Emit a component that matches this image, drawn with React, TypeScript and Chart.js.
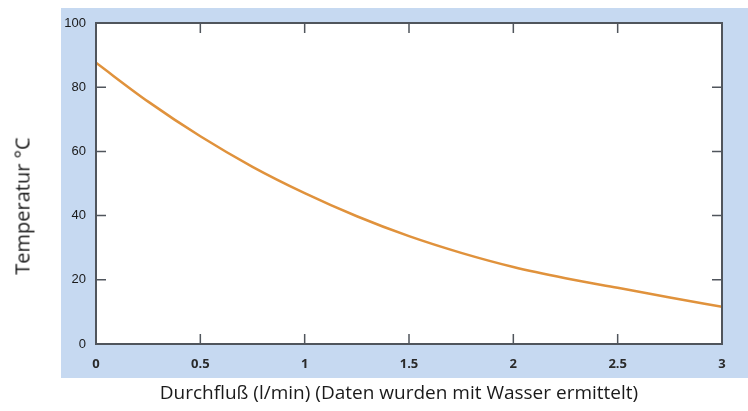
import { useEffect, useRef } from "react";
import { Chart, registerables } from "chart.js";

Chart.register(...registerables);

const flowValues = [0, 0.25, 0.5, 0.75, 1, 1.25, 1.5, 1.75, 2, 2.25, 2.5, 2.75, 3];
const temperatureValues = [87.6, 75.5, 64.7, 55.2, 47.0, 39.8, 33.6, 28.4, 24.0, 20.5, 17.5, 14.5, 11.6];
const xTickValues = [0, 0.5, 1, 1.5, 2, 2.5, 3];
const yTickValues = [0, 20, 40, 60, 80, 100];
const xTitle = "Durchfluß (l/min) (Daten wurden mit Wasser ermittelt)";
const yTitle = "Temperatur °C";

const frameColor = "#50555c";
const tickLen = 10;

const framePlugin = {
  id: "frameTicks",
  beforeDraw(chart: any) {
    const { ctx, chartArea } = chart;
    ctx.save();
    ctx.fillStyle = "#ffffff";
    ctx.fillRect(chartArea.left, chartArea.top, chartArea.right - chartArea.left, chartArea.bottom - chartArea.top);
    ctx.restore();
  },
  afterDraw(chart: any) {
    const { ctx, chartArea } = chart;
    const { left, right, top, bottom } = chartArea;
    const xs = chart.scales.x;
    const ys = chart.scales.y;
    ctx.save();
    ctx.strokeStyle = frameColor;
    ctx.lineWidth = 1.5;
    ctx.beginPath();
    xTickValues.forEach((v) => {
      const px = xs.getPixelForValue(v);
      if (v === xs.min || v === xs.max) return;
      ctx.moveTo(px, bottom);
      ctx.lineTo(px, bottom - tickLen);
      ctx.moveTo(px, top);
      ctx.lineTo(px, top + tickLen);
    });
    yTickValues.forEach((v) => {
      const py = ys.getPixelForValue(v);
      if (v === ys.min || v === ys.max) return;
      ctx.moveTo(left, py);
      ctx.lineTo(left + tickLen, py);
      ctx.moveTo(right, py);
      ctx.lineTo(right - tickLen, py);
    });
    ctx.stroke();
    ctx.lineWidth = 2;
    ctx.strokeRect(left, top, right - left, bottom - top);
    ctx.restore();
  },
};

export default function App() {
  const canvasRef = useRef<HTMLCanvasElement | null>(null);

  useEffect(() => {
    if (!canvasRef.current) return;
    const chart = new Chart(canvasRef.current, {
      type: "line",
      data: {
        datasets: [
          {
            data: flowValues.map((x, i) => ({ x, y: temperatureValues[i] })),
            borderColor: "#e0923c",
            borderWidth: 2.5,
            pointRadius: 0,
            fill: false,
            cubicInterpolationMode: "monotone",
          },
        ],
      },
      options: {
        animation: false,
        responsive: false,
        maintainAspectRatio: false,
        layout: { padding: { top: 23, right: 26, left: 0, bottom: 0 } },
        plugins: { legend: { display: false }, tooltip: { enabled: false } },
        scales: {
          x: {
            type: "linear",
            min: 0,
            max: 3,
            grid: { display: false, drawTicks: false },
            border: { display: false },
            afterBuildTicks: (scale: any) => {
              scale.ticks = xTickValues.map((v) => ({ value: v }));
            },
            afterFit: (scale: any) => {
              scale.height = 67;
            },
            ticks: {
              padding: 12,
              color: "#2a2a2a",
              font: { family: "'Open Sans', sans-serif", size: 13, weight: "bold" },
              maxRotation: 0,
              autoSkip: false,
              callback: (v: any) => String(v),
            },
          },
          y: {
            type: "linear",
            min: 0,
            max: 100,
            grid: { display: false, drawTicks: false },
            border: { display: false },
            afterBuildTicks: (scale: any) => {
              scale.ticks = yTickValues.map((v) => ({ value: v }));
            },
            afterFit: (scale: any) => {
              scale.width = 96;
            },
            ticks: {
              padding: 10,
              color: "#1a1a1a",
              font: { family: "'Liberation Sans', Arial, sans-serif", size: 13 },
              autoSkip: false,
              callback: (v: any) => String(v),
            },
          },
        },
      },
      plugins: [framePlugin],
    } as any);
    return () => chart.destroy();
  }, []);

  return (
    <div style={{ position: "fixed", left: 0, top: 0, width: 748, height: 411, background: "#ffffff" }}>
      <div style={{ position: "absolute", left: 61, top: 8, width: 687, height: 370, background: "#c6d9f1" }} />
      <canvas ref={canvasRef} width={748} height={411} style={{ position: "absolute", left: 0, top: 0, width: 748, height: 411 }} />
      <div
        style={{
          position: "absolute",
          left: 22,
          top: 206,
          transform: "translate(-50%, -50%) rotate(-90deg)",
          whiteSpace: "nowrap",
          fontFamily: "'Open Sans', sans-serif",
          fontSize: 20,
          color: "#1a1a1a",
        }}
      >
        {yTitle}
      </div>
      <div
        style={{
          position: "absolute",
          left: 399,
          top: 392,
          transform: "translate(-50%, -50%)",
          whiteSpace: "nowrap",
          fontFamily: "'Open Sans', sans-serif",
          fontSize: 19,
          color: "#1a1a1a",
        }}
      >
        {xTitle}
      </div>
    </div>
  );
}
